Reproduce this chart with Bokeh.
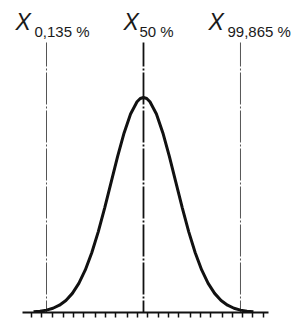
from bokeh.plotting import figure
from bokeh.models import Range1d, LinearAxis, FixedTicker, CustomJSTickFormatter
from bokeh.core.properties import value
from bokeh.embed import file_html
from bokeh.resources import INLINE

# Data (x in units of sigma, mean = 0)
curve_x = [-3.4, -3.2, -3.0, -2.8, -2.6, -2.4, -2.2, -2.0, -1.8, -1.6, -1.4, -1.2, -1.0,
           -0.8, -0.6, -0.4, -0.2, -0.1, 0.0, 0.1, 0.2, 0.4, 0.6, 0.8, 1.0, 1.2, 1.4, 1.6, 1.8,
           2.0, 2.2, 2.4, 2.6, 2.8, 3.0, 3.2, 3.4]
curve_y = [0.0012, 0.0024, 0.0044, 0.0079, 0.0136, 0.0224, 0.0355, 0.0540, 0.0790,
           0.1109, 0.1497, 0.1942, 0.2420, 0.2897, 0.3332, 0.3683, 0.3910, 0.3970, 0.3989,
           0.3970, 0.3910, 0.3683, 0.3332, 0.2897, 0.2420, 0.1942, 0.1497, 0.1109, 0.0790,
           0.0540, 0.0355, 0.0224, 0.0136, 0.0079, 0.0044, 0.0024, 0.0012]
marker_x = [-3.0, 0.0, 3.0]
marker_main = ["X", "X", "X"]
marker_sub = ["0,135 %", "50 %", "99,865 %"]
tick_x = [-3.46, -3.15, -2.81, -2.47, -2.17, -1.86, -1.48, -1.18, -0.87, -0.49, -0.19,
          0.12, 0.46, 0.77, 1.08, 1.45, 1.76, 2.07, 2.44, 2.75, 3.06, 3.37, 3.71]
axis_bounds = (-3.74, 3.87)

p = figure(width=293, height=320, output_backend="svg", toolbar_location=None,
           x_range=Range1d(-4.423, 4.640), y_range=Range1d(0, 0.5789),
           x_axis_location=None, y_axis_location=None,
           min_border_left=0, min_border_right=0, min_border_top=0, min_border_bottom=8)
p.outline_line_color = None
p.grid.visible = False
p.background_fill_color = "white"
p.border_fill_color = "white"

ax = LinearAxis(ticker=FixedTicker(ticks=tick_x), bounds=axis_bounds,
                formatter=CustomJSTickFormatter(code="return ''"))
ax.axis_line_width = 2
ax.axis_line_color = "#111111"
ax.major_tick_in = 0
ax.major_tick_out = 5
ax.major_tick_line_width = 1.5
ax.major_tick_line_color = "#111111"
ax.minor_tick_line_color = None
ax.major_label_standoff = 0
ax.major_label_text_font_size = "0px"
p.add_layout(ax, "below")

line_top = 0.5010
widths = [1, 1.8, 1]
colors = ["#555555", "#111111", "#555555"]
for xm, w, c in zip(marker_x, widths, colors):
    p.segment(x0=[xm], y0=[line_top], x1=[xm], y1=[0], line_color=c, line_width=w,
              line_dash="32 2 2 2", line_dash_offset=8)

p.line(curve_x, curve_y, line_color="#111111", line_width=3)

main_off = [-31, -20, -32]
sub_off = [-12, -4, -13]
for xm, t1, t2, o1, o2 in zip(marker_x, marker_main, marker_sub, main_off, sub_off):
    p.text(x=[xm], y=[0.5399], text=[t1], x_offset=o1, text_font=value("Liberation Sans"),
           text_font_style="italic", text_font_size="23px", text_color="#1a1a1a",
           text_align="left", text_baseline="alphabetic")
    p.text(x=[xm], y=[0.5214], text=[t2], x_offset=o2, text_font=value("Liberation Sans"),
           text_font_size="15px", text_color="#1a1a1a",
           text_align="left", text_baseline="alphabetic")

open("out.html", "w").write(file_html(p, INLINE))
